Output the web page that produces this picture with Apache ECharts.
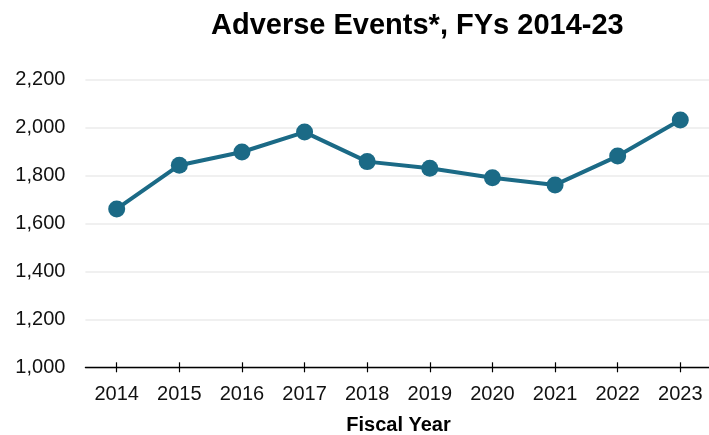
<!DOCTYPE html>
<html>
<head>
<meta charset="utf-8">
<script src="https://cdn.jsdelivr.net/npm/echarts@6/dist/echarts.min.js"></script>
<style>
  html, body { margin: 0; padding: 0; background: #fff; }
  #chart { width: 709px; height: 435px; }
</style>
</head>
<body>
<div id="chart"></div>
<script>
var years = ['2014', '2015', '2016', '2017', '2018', '2019', '2020', '2021', '2022', '2023'];
var adverseEvents = [1660, 1842, 1897, 1980, 1857, 1829, 1790, 1760, 1880, 2030];
var yTicks = [1000, 1200, 1400, 1600, 1800, 2000, 2200];

var fontFamily = 'Liberation Sans, Arial, sans-serif';
var lineColor = '#1b6a86';

var option = {
    animation: false,
    title: {
        text: 'Adverse Events*, FYs 2014-23',
        left: 206,
        top: 6,
        textStyle: {
            fontFamily: fontFamily,
            fontWeight: 'bold',
            fontSize: 29,
            color: '#000'
        }
    },
    grid: {
        left: 85.4,
        top: 79.3,
        width: 626.2,
        height: 288,
        containLabel: false,
        outerBoundsMode: 'none'
    },
    xAxis: [{
        type: 'category',
        data: years,
        boundaryGap: true,
        name: 'Fiscal Year',
        nameLocation: 'middle',
        nameGap: 48,
        nameTextStyle: {
            fontFamily: fontFamily,
            fontWeight: 'bold',
            fontSize: 20,
            color: '#000',
            verticalAlign: 'top'
        },
        axisLine: { show: true, lineStyle: { color: '#000', width: 1.3 } },
        axisTick: { show: true, alignWithLabel: true, interval: 0, length: 5, lineStyle: { color: '#000', width: 1.2 } },
        axisLabel: {
            margin: 17,
            fontFamily: fontFamily,
            fontSize: 20,
            color: '#111'
        },
        splitLine: { show: false }
    }, {
        // inner half of the ticks, so they cross the axis line
        type: 'category',
        data: years,
        position: 'bottom',
        axisLine: { show: false },
        axisTick: { show: true, alignWithLabel: true, interval: 0, inside: true, length: 5, lineStyle: { color: '#000', width: 1.2 } },
        axisLabel: { show: false },
        splitLine: { show: false }
    }],
    yAxis: {
        type: 'value',
        min: yTicks[0],
        max: yTicks[yTicks.length - 1],
        interval: 200,
        axisLine: { show: false },
        axisTick: { show: false },
        axisLabel: {
            margin: 20,
            fontFamily: fontFamily,
            fontSize: 20,
            color: '#111',
            formatter: function (v) {
                return v.toLocaleString('en-US');
            }
        },
        splitLine: { lineStyle: { color: '#ebebeb', width: 1.5 } }
    },
    series: [{
        name: 'Adverse Events',
        type: 'line',
        data: adverseEvents,
        symbol: 'circle',
        symbolSize: 17,
        itemStyle: { color: lineColor },
        lineStyle: { color: lineColor, width: 4 }
    }]
};

var myChart = echarts.init(document.getElementById('chart'));
myChart.setOption(option);
</script>
</body>
</html>
